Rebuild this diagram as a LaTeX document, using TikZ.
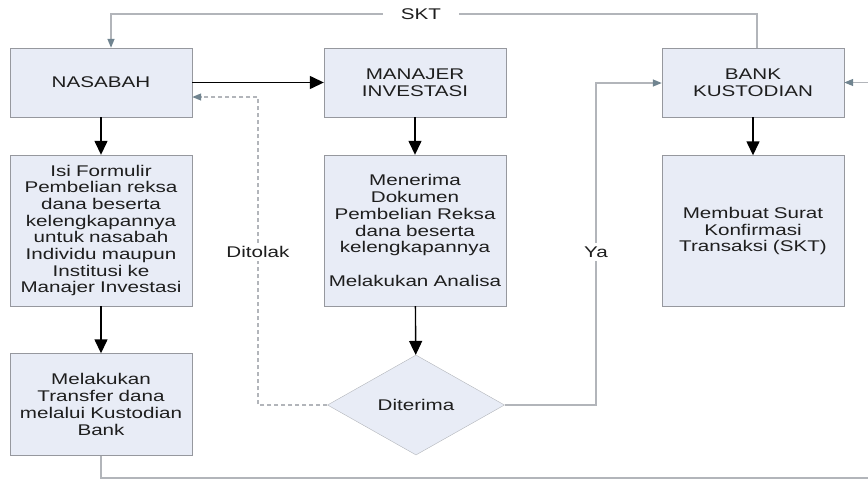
\documentclass[tikz,border=0pt]{standalone}
\usepackage{fontspec}
\setmainfont{Liberation Sans}[FakeStretch=1.33]
\usepackage{tikz}
\usetikzlibrary{shapes.geometric, arrows.meta, positioning}
\definecolor{boxfill}{RGB}{232, 236, 246}
\definecolor{boxline}{RGB}{150, 152, 158}
\definecolor{linkgray}{RGB}{178, 181, 186}
\definecolor{headgray}{RGB}{112, 132, 144}
\definecolor{textdark}{RGB}{30, 30, 30}

\begin{document}
\begin{tikzpicture}[x=1pt, y=-1pt,
  procbox/.style={draw=boxline, fill=boxfill, minimum width=182pt, text width=176pt,
    align=center, inner sep=0pt, text=textdark, font=\fontsize{15.5}{16.7}\selectfont},
  decision/.style={diamond, draw=linkgray, fill=boxfill, minimum width=177pt,
    minimum height=100pt, inner sep=0pt, text=textdark, font=\fontsize{15.5}{16.7}\selectfont},
  flowarrow/.style={draw=black, line width=1.4pt, -{Triangle[length=14pt, width=13pt]}},
  linkline/.style={draw=linkgray, line width=1.3pt},
  linkarrow/.style={linkline, -{Triangle[length=9pt, width=7pt, color=headgray]}},
  lbl/.style={fill=white, text=textdark, font=\fontsize{15.5}{16.7}\selectfont}]
  % Frame
  \clip (0, 0) rectangle (868, 480);

  % Top row
  \node[procbox, minimum height=69pt] (nasabah) at (101, 82.5) {NASABAH};
  \node[procbox, minimum height=69pt] (manajer) at (415, 82.5) {MANAJER\\INVESTASI};
  \node[procbox, minimum height=69pt] (bank) at (753, 82.5) {BANK\\KUSTODIAN};

  % Middle row
  \node[procbox, minimum height=151pt] (formulir) at (101, 230.5)
    {Isi Formulir\\Pembelian reksa\\dana beserta\\kelengkapannya\\untuk nasabah\\Individu maupun\\Institusi ke\\Manajer Investasi};
  \node[procbox, minimum height=151pt] (terima) at (415, 230.5)
    {Menerima\\Dokumen\\Pembelian Reksa\\dana beserta\\kelengkapannya\\[16.7pt]Melakukan Analisa};
  \node[procbox, minimum height=151pt] (surat) at (753, 231)
    {Membuat Surat\\Konfirmasi\\Transaksi (SKT)};

  % Bottom row
  \node[procbox, minimum height=102pt] (transfer) at (101, 404.5)
    {Melakukan\\Transfer dana\\melalui Kustodian\\Bank};
  \node[decision] (diterima) at (416, 405) {Diterima};

  % Main flow
  \draw[flowarrow] (nasabah) -- (manajer);
  \draw[flowarrow] (nasabah) -- (formulir);
  \draw[flowarrow] (formulir) -- (transfer);
  \draw[flowarrow] (manajer) -- (terima);
  \draw[flowarrow] (terima) -- (diterima);
  \draw[flowarrow] (bank) -- (surat);

  % Ditolak
  \coordinate (tolak) at (258, 97);
  \draw[linkarrow, dash pattern=on 4pt off 3pt] (diterima.west) -| (tolak) -- (nasabah.east |- tolak);
  \node[lbl] (ditolak) at (258, 252) {Ditolak};

  % Ya
  \coordinate (ya) at (596, 83);
  \draw[linkarrow] (diterima.east) -| (ya) -- (bank.west |- ya);
  \node[lbl] (yalbl) at (596, 252) {Ya};

  % SKT back to nasabah
  \coordinate (sktR) at (757, 14);
  \coordinate (sktL) at (111, 14);
  \draw[linkarrow] (bank.north -| sktR) -- (sktR) -- (sktL) -- (nasabah.north -| sktL);
  \node[lbl, inner xsep=18pt] (skt) at (421, 14) {SKT};

  % Transfer to bank
  \coordinate (bawah) at (101, 478);
  \coordinate (kanan) at (885, 478);
  \draw[linkarrow] (transfer.south) -- (bawah) -- (kanan) |- (bank.east);
\end{tikzpicture}
\end{document}
